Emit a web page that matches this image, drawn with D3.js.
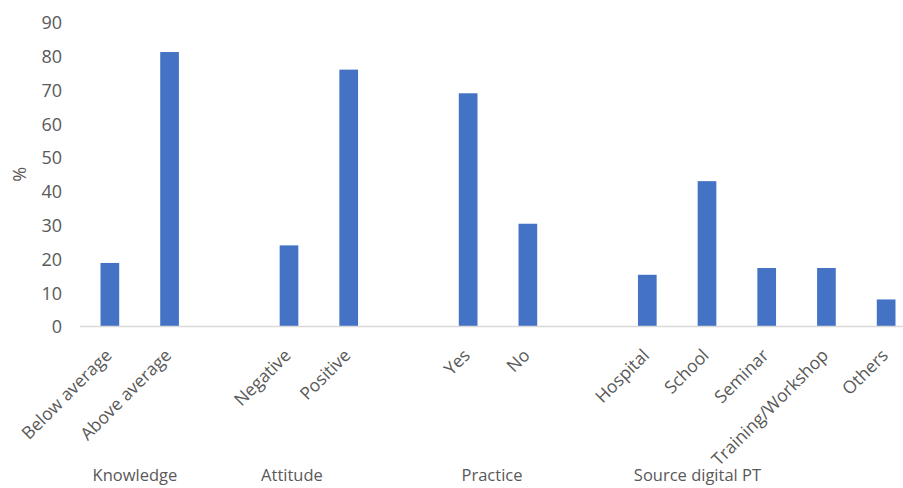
<!DOCTYPE html>
<meta charset="utf-8">
<style>
  body { margin: 0; background: #fff; }
  svg text { font-family: "Open Sans", "Noto Sans", sans-serif; fill: #595959; }
</style>
<body>
<script src="https://d3js.org/d3.v7.min.js"></script>
<script>
  var categories = ["Below average", "Above average", "Negative", "Positive", "Yes", "No",
                    "Hospital", "School", "Seminar", "Training/Workshop", "Others"];
  var values = [18.8, 81.2, 24, 76, 69, 30.4, 15.3, 43, 17.3, 17.3, 8];
  var groupOf = [0, 0, 1, 1, 2, 2, 3, 3, 3, 3, 3];
  var groups = ["Knowledge", "Attitude", "Practice", "Source digital PT"];
  // where each group title sits, in slot units
  var groupPos = [0.42, 3.05, 6.4, 9.84];
  var yTicks = [0, 10, 20, 30, 40, 50, 60, 70, 80, 90];

  var W = 903, H = 488;
  var plotLeft = 80, plotRight = 916, plotTop = 22.3, plotBase = 326.5;

  var data = categories.map(function(c, i) {
    return { name: c, value: values[i], slot: i + groupOf[i] };
  });
  var nSlots = d3.max(data, function(d) { return d.slot; }) + 1;

  var svg = d3.select("body").append("svg")
    .attr("width", W).attr("height", H);

  var x = d3.scaleBand()
    .domain(d3.range(nSlots))
    .range([plotLeft, plotRight])
    .paddingInner(0.687)
    .paddingOuter(0.3435);

  var y = d3.scaleLinear().domain([0, 90]).range([plotBase, plotTop]);

  // y labels
  var yAxis = d3.axisLeft(y).tickValues(yTicks).tickSize(0).tickPadding(0);
  var gy = svg.append("g")
    .attr("transform", "translate(62,0)")
    .call(yAxis);
  gy.select(".domain").remove();
  gy.selectAll("text")
    .style("font-size", "18px")
    .attr("fill", "#595959")
    .attr("dy", "0.35em");

  svg.append("text")
    .attr("transform", "translate(26," + ((plotTop + plotBase) / 2) + ") rotate(-90)")
    .attr("text-anchor", "middle")
    .style("font-size", "18px")
    .text("%");

  // bars
  svg.selectAll(".bar")
    .data(data)
    .enter().append("rect")
    .attr("class", "bar")
    .attr("x", function(d) { return x(d.slot); })
    .attr("width", x.bandwidth())
    .attr("y", function(d) { return y(d.value); })
    .attr("height", function(d) { return plotBase - y(d.value); })
    .attr("fill", "#4472C4");

  // baseline
  svg.append("line")
    .attr("x1", plotLeft).attr("x2", W)
    .attr("y1", plotBase).attr("y2", plotBase)
    .attr("stroke", "#d9d9d9")
    .attr("stroke-width", 1.5);

  // category labels
  svg.selectAll(".cat")
    .data(data)
    .enter().append("text")
    .attr("class", "cat")
    .attr("text-anchor", "end")
    .style("font-size", "17.5px")
    .attr("transform", function(d) {
      var cx = x(d.slot) + x.bandwidth() / 2 + 3;
      return "translate(" + cx + "," + (plotBase + 30) + ") rotate(-45)";
    })
    .text(function(d) { return d.name; });

  // group labels
  var step = x.step();
  svg.selectAll(".grp")
    .data(groups)
    .enter().append("text")
    .attr("class", "grp")
    .attr("text-anchor", "middle")
    .style("font-size", "16.5px")
    .attr("x", function(d, i) { return x(0) + x.bandwidth() / 2 + groupPos[i] * step; })
    .attr("y", 481)
    .text(function(d) { return d; });
</script>
</body>
